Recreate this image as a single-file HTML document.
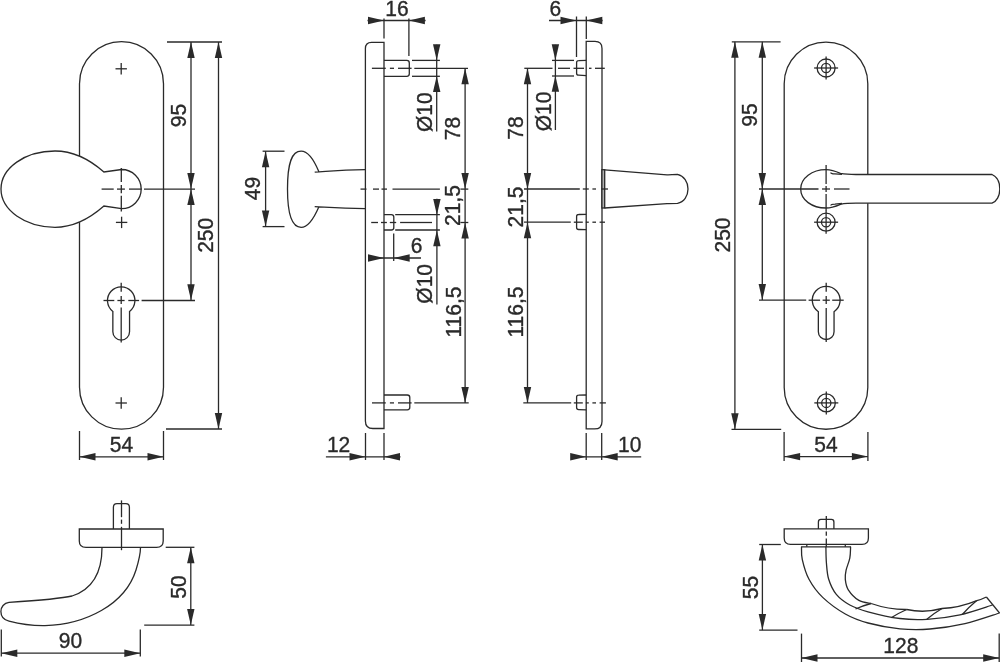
<!DOCTYPE html>
<html><head><meta charset="utf-8"><style>
html,body{margin:0;padding:0;background:#fff;width:1000px;height:662px;overflow:hidden}
svg{display:block}
text{font-family:"Liberation Sans",sans-serif;font-size:21px;fill:#2a2a2a;stroke:#2a2a2a;stroke-width:0.35px}
svg{will-change:transform}
</style></head><body>
<svg width="1000" height="662" viewBox="0 0 1000 662">
<g fill="none" stroke="#2a2a2a" stroke-width="1.3">
<path d="M79.5,83.7 A42,42 0 0 1 163.5,83.7 L163.5,387.2 A42,42 0 0 1 79.5,387.2 Z" fill="none" />
<line x1="115.5" y1="68.8" x2="126.9" y2="68.8"/>
<line x1="121.2" y1="63.1" x2="121.2" y2="74.5"/>
<line x1="115.9" y1="222.4" x2="127.3" y2="222.4"/>
<line x1="121.6" y1="216.7" x2="121.6" y2="228.1"/>
<line x1="115.5" y1="403" x2="126.9" y2="403"/>
<line x1="121.2" y1="397.3" x2="121.2" y2="408.7"/>
<path d="M103.9,172 C88,158 72,151 55,151 C25,151 1,168 1,189.1 C1,210 25,227.3 55,227.3 C72,227.3 88,220 103.9,206 L121.6,208.7 A19.6,19.6 0 0 0 121.6,169.5 Z" fill="#fff" />
<line x1="121.3" y1="167.9" x2="121.3" y2="182"/>
<line x1="121.3" y1="184.9" x2="121.3" y2="193.2"/>
<line x1="121.3" y1="195.7" x2="121.3" y2="211.5"/>
<line x1="101.6" y1="189.1" x2="113.7" y2="189.1"/>
<line x1="117" y1="189.1" x2="124.9" y2="189.1"/>
<line x1="129" y1="189.1" x2="141.5" y2="189.1"/>
<line x1="144" y1="189.1" x2="195" y2="189.1"/>
<path d="M112.85,311.4 A13.7,13.7 0 1 1 129.55,311.4 L129.55,331.75 A8.35,8.35 0 0 1 112.85,331.75 Z" fill="none" />
<line x1="121.2" y1="282.7" x2="121.2" y2="291.8"/>
<line x1="121.2" y1="296" x2="121.2" y2="303.9"/>
<line x1="121.2" y1="307.5" x2="121.2" y2="342.5"/>
<line x1="103.5" y1="300.5" x2="114.3" y2="300.5"/>
<line x1="117.4" y1="300.5" x2="124.6" y2="300.5"/>
<line x1="128.3" y1="300.5" x2="139.1" y2="300.5"/>
<line x1="141.6" y1="300.5" x2="195" y2="300.5"/>
<line x1="167" y1="42" x2="222" y2="42"/>
<line x1="166" y1="429" x2="222" y2="429"/>
<line x1="191" y1="42" x2="191" y2="300"/>
<polygon points="191.00,42.00 187.30,58.00 194.70,58.00" fill="#2a2a2a" stroke="none"/>
<polygon points="191.00,189.10 187.30,173.10 194.70,173.10" fill="#2a2a2a" stroke="none"/>
<polygon points="191.00,189.10 187.30,205.10 194.70,205.10" fill="#2a2a2a" stroke="none"/>
<polygon points="191.00,300.20 187.30,284.20 194.70,284.20" fill="#2a2a2a" stroke="none"/>
<line x1="218.5" y1="42" x2="218.5" y2="429"/>
<polygon points="218.50,42.00 214.80,58.00 222.20,58.00" fill="#2a2a2a" stroke="none"/>
<polygon points="218.50,429.00 214.80,413.00 222.20,413.00" fill="#2a2a2a" stroke="none"/>
<text transform="translate(185.6,115.5) rotate(-90) scale(1,1.02)" text-anchor="middle">95</text>
<text transform="translate(213.2,235.3) rotate(-90) scale(1,1.02)" text-anchor="middle">250</text>
<line x1="79.5" y1="431" x2="79.5" y2="460"/>
<line x1="163.5" y1="431" x2="163.5" y2="460"/>
<line x1="79.5" y1="456.8" x2="163.5" y2="456.8"/>
<polygon points="79.50,456.80 95.50,453.10 95.50,460.50" fill="#2a2a2a" stroke="none"/>
<polygon points="163.50,456.80 147.50,453.10 147.50,460.50" fill="#2a2a2a" stroke="none"/>
<text transform="translate(121.5,451.6) scale(1,1.02)" text-anchor="middle">54</text>
<path d="M384,42.3 L371.5,42.3 Q365.4,42.3 365.4,48.5 L365.4,421 Q365.4,428.5 372.9,428.5 L384,428.5 Z" fill="none" />
<path d="M384,60.4 L406.8,60.4 Q409.3,60.4 409.3,62.9 L409.3,73.8 Q409.3,76.3 406.8,76.3 L384,76.3" fill="none" />
<path d="M384,214.6 L391.3,214.6 Q393.8,214.6 393.8,217.1 L393.8,227.5 Q393.8,230 391.3,230 L384,230" fill="none" />
<path d="M384,395 L407.3,395 Q409.8,395 409.8,397.5 L409.8,407.3 Q409.8,409.8 407.3,409.8 L384,409.8" fill="none" />
<line x1="371.9" y1="68.3" x2="385.8" y2="68.3"/>
<line x1="389.9" y1="68.3" x2="394" y2="68.3"/>
<line x1="398" y1="68.3" x2="411.6" y2="68.3"/>
<line x1="414.3" y1="68.3" x2="468" y2="68.3"/>
<line x1="371.2" y1="222.5" x2="378" y2="222.5"/>
<line x1="381" y1="222.5" x2="386.9" y2="222.5"/>
<line x1="389.8" y1="222.5" x2="396.2" y2="222.5"/>
<line x1="400.1" y1="222.5" x2="432" y2="222.5"/>
<line x1="372" y1="402.9" x2="385.8" y2="402.9"/>
<line x1="389.9" y1="402.9" x2="394" y2="402.9"/>
<line x1="398" y1="402.9" x2="411.6" y2="402.9"/>
<line x1="414.3" y1="402.9" x2="468.7" y2="402.9"/>
<line x1="412" y1="60.4" x2="439.9" y2="60.4"/>
<line x1="412" y1="76.3" x2="439.9" y2="76.3"/>
<line x1="395.2" y1="214.6" x2="439.9" y2="214.6"/>
<line x1="395.2" y1="230" x2="439.9" y2="230"/>
<path d="M365,169.7 C340,170.2 328,171.4 314.7,172.1 M318.8,171.5 C314,160 308,151.1 301.1,151.1 C292,151.1 287.5,162 287.5,189 C287.5,216 292,227.3 301.1,227.3 C308,227.3 314,218 318.8,206.9 M314.7,206.6 C328,207.2 340,208 365,208.6" fill="none" />
<line x1="360.5" y1="189.1" x2="366.5" y2="189.1"/>
<line x1="373" y1="189.1" x2="379" y2="189.1"/>
<line x1="381.5" y1="189.1" x2="387" y2="189.1"/>
<line x1="392.5" y1="189.1" x2="439.9" y2="189.1"/>
<line x1="262.6" y1="151.2" x2="284.5" y2="151.2"/>
<line x1="262.6" y1="226.6" x2="284.5" y2="226.6"/>
<line x1="265.6" y1="151.2" x2="265.6" y2="226.6"/>
<polygon points="265.60,151.20 261.90,167.20 269.30,167.20" fill="#2a2a2a" stroke="none"/>
<polygon points="265.60,226.60 261.90,210.60 269.30,210.60" fill="#2a2a2a" stroke="none"/>
<text transform="translate(260.3,188.6) rotate(-90) scale(1,1.02)" text-anchor="middle">49</text>
<line x1="384" y1="18.6" x2="384" y2="38.5"/>
<line x1="408.9" y1="18.6" x2="408.9" y2="56"/>
<line x1="367.5" y1="20.5" x2="425.6" y2="20.5"/>
<polygon points="384.00,20.50 368.00,16.80 368.00,24.20" fill="#2a2a2a" stroke="none"/>
<polygon points="408.90,20.50 424.90,16.80 424.90,24.20" fill="#2a2a2a" stroke="none"/>
<text transform="translate(397,15.9) scale(1,1.02)" text-anchor="middle">16</text>
<line x1="436.7" y1="44.8" x2="436.7" y2="131.6"/>
<polygon points="436.70,60.30 433.00,44.30 440.40,44.30" fill="#2a2a2a" stroke="none"/>
<polygon points="436.70,76.10 433.00,92.10 440.40,92.10" fill="#2a2a2a" stroke="none"/>
<text transform="translate(432,112.2) rotate(-90) scale(1,1.02)" text-anchor="middle">Ø10</text>
<line x1="465.1" y1="68.3" x2="465.1" y2="402.9"/>
<polygon points="465.10,68.30 461.40,84.30 468.80,84.30" fill="#2a2a2a" stroke="none"/>
<polygon points="465.10,189.10 461.40,173.10 468.80,173.10" fill="#2a2a2a" stroke="none"/>
<polygon points="465.10,222.50 461.40,238.50 468.80,238.50" fill="#2a2a2a" stroke="none"/>
<polygon points="465.10,402.90 461.40,386.90 468.80,386.90" fill="#2a2a2a" stroke="none"/>
<line x1="460.4" y1="189.1" x2="468.3" y2="189.1"/>
<line x1="460.4" y1="222.5" x2="468.3" y2="222.5"/>
<text transform="translate(460,128.6) rotate(-90) scale(1,1.02)" text-anchor="middle">78</text>
<text transform="translate(460.4,205.6) rotate(-90) scale(1,1.02)" text-anchor="middle">21,5</text>
<text transform="translate(460.5,312) rotate(-90) scale(1,1.02)" text-anchor="middle">116,5</text>
<line x1="436.9" y1="198.7" x2="436.9" y2="304.4"/>
<polygon points="436.90,215.00 433.20,199.00 440.60,199.00" fill="#2a2a2a" stroke="none"/>
<polygon points="436.90,230.20 433.20,246.20 440.60,246.20" fill="#2a2a2a" stroke="none"/>
<text transform="translate(431.5,283.8) rotate(-90) scale(1,1.02)" text-anchor="middle">Ø10</text>
<line x1="393.7" y1="233.5" x2="393.7" y2="261"/>
<line x1="368.4" y1="258" x2="421" y2="258"/>
<polygon points="384.00,258.00 368.00,254.30 368.00,261.70" fill="#2a2a2a" stroke="none"/>
<polygon points="393.70,258.00 409.70,254.30 409.70,261.70" fill="#2a2a2a" stroke="none"/>
<text transform="translate(416.6,253.1) scale(1,1.02)" text-anchor="middle">6</text>
<line x1="365.5" y1="433" x2="365.5" y2="460"/>
<line x1="384" y1="433" x2="384" y2="460"/>
<line x1="325.9" y1="456.8" x2="400.5" y2="456.8"/>
<polygon points="365.50,456.80 349.50,453.10 349.50,460.50" fill="#2a2a2a" stroke="none"/>
<polygon points="384.00,456.80 400.00,453.10 400.00,460.50" fill="#2a2a2a" stroke="none"/>
<text transform="translate(338.6,452) scale(1,1.02)" text-anchor="middle">12</text>
<path d="M586.2,41.4 L595,41.4 Q602,41.4 602,48.4 L602,421.4 Q602,428.9 594.5,428.9 L586.2,428.9 Z" fill="none" />
<path d="M586.2,60.4 L578.6,60.6 Q576.6,60.6 576.6,62.6 L576.6,73.2 Q576.6,75.2 578.6,75.2 L586.2,75.6" fill="none" />
<path d="M586.2,214.3 L578.6,214.5 Q576.6,214.5 576.6,216.5 L576.6,227.5 Q576.6,229.5 578.6,229.5 L586.2,229.7" fill="none" />
<path d="M586.2,395 L578.6,395.2 Q576.6,395.2 576.6,397.2 L576.6,407.6 Q576.6,409.6 578.6,409.6 L586.2,409.8" fill="none" />
<line x1="524.3" y1="68.3" x2="552.5" y2="68.3"/>
<line x1="558" y1="68.3" x2="570" y2="68.3"/>
<line x1="573.5" y1="68.3" x2="584" y2="68.3"/>
<line x1="589" y1="68.3" x2="591.5" y2="68.3"/>
<line x1="595" y1="68.3" x2="604.8" y2="68.3"/>
<line x1="524" y1="222.2" x2="570.8" y2="222.2"/>
<line x1="573.8" y1="222.2" x2="582.8" y2="222.2"/>
<line x1="585.8" y1="222.2" x2="588.8" y2="222.2"/>
<line x1="592.4" y1="222.2" x2="596" y2="222.2"/>
<line x1="599.6" y1="222.2" x2="605" y2="222.2"/>
<line x1="523.3" y1="402.9" x2="571.2" y2="402.9"/>
<line x1="573.8" y1="402.9" x2="582.8" y2="402.9"/>
<line x1="585.8" y1="402.9" x2="588.8" y2="402.9"/>
<line x1="592.4" y1="402.9" x2="596" y2="402.9"/>
<line x1="599.6" y1="402.9" x2="605.9" y2="402.9"/>
<line x1="552" y1="60.4" x2="574" y2="60.4"/>
<line x1="552" y1="76" x2="574" y2="76"/>
<rect x="601.9" y="169.7" width="2.8" height="38.3" fill="#b0b0b0"/>
<path d="M604.7,169.9 L667,174.8 Q670,174.9 677.5,174.4 C684,176 688,182 688,189 C688,196 684,202 677.5,203.3 Q670,203.4 667,203.6 L604.5,208" fill="none" />
<line x1="524" y1="189" x2="579.8" y2="189"/>
<line x1="582.8" y1="189" x2="588.8" y2="189"/>
<line x1="592.4" y1="189" x2="596" y2="189"/>
<line x1="601.4" y1="189" x2="608" y2="189"/>
<line x1="576.5" y1="16.5" x2="576.5" y2="57"/>
<line x1="586.3" y1="16.5" x2="586.3" y2="39"/>
<line x1="549" y1="20.5" x2="602.6" y2="20.5"/>
<polygon points="576.50,20.50 560.50,16.80 560.50,24.20" fill="#2a2a2a" stroke="none"/>
<polygon points="586.30,20.50 602.30,16.80 602.30,24.20" fill="#2a2a2a" stroke="none"/>
<text transform="translate(555.3,15.8) scale(1,1.02)" text-anchor="middle">6</text>
<line x1="555.4" y1="44.8" x2="555.4" y2="130"/>
<polygon points="555.40,60.30 551.70,44.30 559.10,44.30" fill="#2a2a2a" stroke="none"/>
<polygon points="555.40,75.70 551.70,91.70 559.10,91.70" fill="#2a2a2a" stroke="none"/>
<text transform="translate(551,111.5) rotate(-90) scale(1,1.02)" text-anchor="middle">Ø10</text>
<line x1="527.5" y1="68.3" x2="527.5" y2="402.9"/>
<polygon points="527.50,68.30 523.80,84.30 531.20,84.30" fill="#2a2a2a" stroke="none"/>
<polygon points="527.50,188.90 523.80,172.90 531.20,172.90" fill="#2a2a2a" stroke="none"/>
<polygon points="527.50,222.20 523.80,238.20 531.20,238.20" fill="#2a2a2a" stroke="none"/>
<polygon points="527.50,402.90 523.80,386.90 531.20,386.90" fill="#2a2a2a" stroke="none"/>
<text transform="translate(523,128) rotate(-90) scale(1,1.02)" text-anchor="middle">78</text>
<text transform="translate(523,207) rotate(-90) scale(1,1.02)" text-anchor="middle">21,5</text>
<text transform="translate(523,312) rotate(-90) scale(1,1.02)" text-anchor="middle">116,5</text>
<line x1="586.2" y1="433" x2="586.2" y2="460"/>
<line x1="601.7" y1="433" x2="601.7" y2="460"/>
<line x1="571" y1="456.8" x2="641.2" y2="456.8"/>
<polygon points="586.20,456.80 570.20,453.10 570.20,460.50" fill="#2a2a2a" stroke="none"/>
<polygon points="601.70,456.80 617.70,453.10 617.70,460.50" fill="#2a2a2a" stroke="none"/>
<text transform="translate(629.7,452) scale(1,1.02)" text-anchor="middle">10</text>
<path d="M784.2,83.8 A41.8,41.8 0 0 1 867.8,83.8 L867.8,387.5 A41.8,41.8 0 0 1 784.2,387.5 Z" fill="none" />
<circle cx="826.1" cy="68" r="9.0" fill="none"/>
<circle cx="826.1" cy="68" r="4.6" fill="none"/>
<line x1="814.1" y1="68" x2="838.1" y2="68"/>
<line x1="826.1" y1="56.5" x2="826.1" y2="79.5"/>
<circle cx="826.1" cy="222.2" r="9.0" fill="none"/>
<circle cx="826.1" cy="222.2" r="4.6" fill="none"/>
<line x1="814.1" y1="222.2" x2="838.1" y2="222.2"/>
<line x1="826.1" y1="210.7" x2="826.1" y2="233.7"/>
<circle cx="826.3" cy="402.9" r="9.0" fill="none"/>
<circle cx="826.3" cy="402.9" r="4.6" fill="none"/>
<line x1="814.3" y1="402.9" x2="838.3" y2="402.9"/>
<line x1="826.3" y1="391.4" x2="826.3" y2="414.4"/>
<path d="M840.4,173.4 C833,170 830,169.6 826.1,169.6 C812,169.6 800.7,178 800.7,189 C800.7,200 812,208 826.1,208 C830,208 833,207.5 840.4,204.3 C846,203.3 850,203.2 856,203.2 L992,203.2 C996.5,201.5 999.8,196 999.8,189 C999.8,182 996.5,176.5 992,174.5 L856,174.5 C850,174.5 846,174.4 840.4,173.4 Z" fill="#fff" />
<path d="M830.8,172.5 C830.8,173.5 832,173.9 835,173.9 L842,174.4" fill="none" />
<path d="M830.8,205.5 C830.8,204.5 832,204.1 835,204.1 L842,203.3" fill="none" />
<line x1="826.1" y1="165" x2="826.1" y2="184"/>
<line x1="826.1" y1="186" x2="826.1" y2="192"/>
<line x1="826.1" y1="194" x2="826.1" y2="211"/>
<line x1="759" y1="189" x2="818.5" y2="189"/>
<line x1="822" y1="189" x2="830" y2="189"/>
<line x1="834" y1="189" x2="849.5" y2="189"/>
<path d="M818.35,311.7 A13.9,13.9 0 1 1 834.05,311.7 L834.05,331.65 A7.85,7.85 0 0 1 818.35,331.65 Z" fill="none" />
<line x1="826.2" y1="282.7" x2="826.2" y2="291.8"/>
<line x1="826.2" y1="296" x2="826.2" y2="303.9"/>
<line x1="826.2" y1="308" x2="826.2" y2="342"/>
<line x1="759" y1="300.2" x2="806.2" y2="300.2"/>
<line x1="808.6" y1="300.2" x2="820.1" y2="300.2"/>
<line x1="822.6" y1="300.2" x2="829.8" y2="300.2"/>
<line x1="832.2" y1="300.2" x2="843.7" y2="300.2"/>
<line x1="731.8" y1="41.8" x2="780.6" y2="41.8"/>
<line x1="731.5" y1="429.3" x2="781.2" y2="429.3"/>
<line x1="734.9" y1="41.8" x2="734.9" y2="429.3"/>
<polygon points="734.90,41.80 731.20,57.80 738.60,57.80" fill="#2a2a2a" stroke="none"/>
<polygon points="734.90,429.30 731.20,413.30 738.60,413.30" fill="#2a2a2a" stroke="none"/>
<line x1="762.3" y1="41.8" x2="762.3" y2="300.1"/>
<polygon points="762.30,41.80 758.60,57.80 766.00,57.80" fill="#2a2a2a" stroke="none"/>
<polygon points="762.30,189.00 758.60,173.00 766.00,173.00" fill="#2a2a2a" stroke="none"/>
<polygon points="762.30,189.00 758.60,205.00 766.00,205.00" fill="#2a2a2a" stroke="none"/>
<polygon points="762.30,300.10 758.60,284.10 766.00,284.10" fill="#2a2a2a" stroke="none"/>
<text transform="translate(757,115) rotate(-90) scale(1,1.02)" text-anchor="middle">95</text>
<text transform="translate(730,235) rotate(-90) scale(1,1.02)" text-anchor="middle">250</text>
<line x1="784.1" y1="432" x2="784.1" y2="461"/>
<line x1="867.9" y1="432" x2="867.9" y2="461"/>
<line x1="784.1" y1="456.6" x2="867.9" y2="456.6"/>
<polygon points="784.10,456.60 800.10,452.90 800.10,460.30" fill="#2a2a2a" stroke="none"/>
<polygon points="867.90,456.60 851.90,452.90 851.90,460.30" fill="#2a2a2a" stroke="none"/>
<text transform="translate(826,451.7) scale(1,1.02)" text-anchor="middle">54</text>
<path d="M79.3,529 L163.2,529 L163.2,541 Q163.2,547.4 156.5,547.4 L86,547.4 Q79.3,547.4 79.3,541 Z" fill="none" />
<path d="M113.4,529 L113.4,507.2 Q113.4,503.6 117,503.6 L125.8,503.6 Q129.4,503.6 129.4,507.2 L129.4,529" fill="none" />
<line x1="121.5" y1="500.4" x2="121.5" y2="517.2"/>
<line x1="121.5" y1="519.6" x2="121.5" y2="523.8"/>
<line x1="121.5" y1="526.8" x2="121.5" y2="550.2"/>
<path d="M102,547.4 C102,575 90,590 72,596 C60,598.8 30,601 9,602.4 C4,603 0.9,607 0.9,611.5 C0.9,616.5 4,620 9,621.1 C20,624 33,625.8 45,625.6 C85,624.6 125,605 136,570 C139,560 140.5,552 140.5,547.4" fill="none" />
<line x1="165.7" y1="547.3" x2="194.4" y2="547.3"/>
<line x1="144.2" y1="625.1" x2="194.4" y2="625.1"/>
<line x1="190.8" y1="547.3" x2="190.8" y2="625.1"/>
<polygon points="190.80,547.30 187.10,563.30 194.50,563.30" fill="#2a2a2a" stroke="none"/>
<polygon points="190.80,625.10 187.10,609.10 194.50,609.10" fill="#2a2a2a" stroke="none"/>
<text transform="translate(186,587) rotate(-90) scale(1,1.02)" text-anchor="middle">50</text>
<line x1="1.3" y1="629.4" x2="1.3" y2="656.5"/>
<line x1="140.3" y1="629.4" x2="140.3" y2="656.5"/>
<line x1="1.3" y1="653.2" x2="140.3" y2="653.2"/>
<polygon points="1.30,653.20 17.30,649.50 17.30,656.90" fill="#2a2a2a" stroke="none"/>
<polygon points="140.30,653.20 124.30,649.50 124.30,656.90" fill="#2a2a2a" stroke="none"/>
<text transform="translate(70.5,648.3) scale(1,1.02)" text-anchor="middle">90</text>
<path d="M784.2,528.9 L868.4,528.9 L868.4,538 Q868.4,544.4 862,544.4 L790.6,544.4 Q784.2,544.4 784.2,538 Z" fill="none" />
<path d="M818.4,528.9 L818.4,521.9 Q818.4,519.4 820.9,519.4 L831.4,519.4 Q833.9,519.4 833.9,521.9 L833.9,528.9" fill="none" />
<line x1="826.3" y1="516" x2="826.3" y2="528.7"/>
<line x1="826.3" y1="531.4" x2="826.3" y2="535.8"/>
<line x1="826.3" y1="538.5" x2="826.3" y2="547"/>
<path d="M806.8,544.4 L806.8,546.8 M845.3,544.4 L845.3,546.8" fill="none" />
<line x1="801.1" y1="546.8" x2="851" y2="546.8"/>
<path d="M801.5,546.8 C801.63,548.93 801.05,554.18 802.3,559.6 C803.55,565.02 805.60,573.00 809,579.3 C812.40,585.60 816.65,591.62 822.7,597.4 C828.75,603.18 837.75,609.73 845.3,614 C852.85,618.27 858.88,620.53 868,623 C877.12,625.47 889.67,627.80 900,628.8 C910.33,629.80 919.17,629.87 930,629 C940.83,628.13 953.42,626.27 965,623.6 C976.58,620.93 993.75,614.77 999.5,613" fill="none" />
<path d="M825.9,546.8 C825.98,549.45 825.93,557.28 826.4,562.7 C826.87,568.12 827.05,574.02 828.7,579.3 C830.35,584.58 832.78,590.12 836.3,594.4 C839.82,598.68 844.52,602.10 849.8,605 C855.08,607.90 859.63,609.55 868,611.8 C876.37,614.05 890.17,617.25 900,618.5 C909.83,619.75 917.00,619.92 927,619.3 C937.00,618.68 949.08,617.18 960,614.8 C970.92,612.42 987.08,606.63 992.5,605" fill="none" />
<path d="M850.6,546.8 C850.47,548.68 850.55,554.20 849.8,558.1 C849.05,562.00 846.85,566.67 846.1,570.2 C845.35,573.73 844.93,576.03 845.3,579.3 C845.67,582.57 846.03,586.28 848.3,589.8 C850.57,593.32 855.10,598.12 858.9,600.4 C862.70,602.68 869.07,602.98 871.1,603.5" fill="none" />
<path d="M871.1,603.5 Q888.9000000000001,609.7 906.7,609.5" fill="none" />
<path d="M906.7,609.5 Q924.35,613.4 942,608.5" fill="none" />
<path d="M942,608.5 Q959.4,607.75 976.8,600.6" fill="none" />
<path d="M976.8,600.6 Q981.5999999999999,599.4 986.4,597" fill="none" />
<line x1="986.4" y1="597" x2="999.6" y2="613"/>
<path d="M855.5,609 Q862.9,605.65 871.1,603.5" fill="none" />
<path d="M891.2,617.8 Q898.5500000000001,613.05 906.7,609.5" fill="none" />
<path d="M926.8,619.2 Q934.0,613.25 942,608.5" fill="none" />
<path d="M962.5,614.3 Q969.25,606.85 976.8,600.6" fill="none" />
<line x1="759.2" y1="544.5" x2="780.8" y2="544.5"/>
<line x1="759.2" y1="630.1" x2="797.5" y2="630.1"/>
<line x1="762.4" y1="544.5" x2="762.4" y2="630.1"/>
<polygon points="762.40,544.50 758.70,560.50 766.10,560.50" fill="#2a2a2a" stroke="none"/>
<polygon points="762.40,630.10 758.70,614.10 766.10,614.10" fill="#2a2a2a" stroke="none"/>
<text transform="translate(758.2,587.5) rotate(-90) scale(1,1.02)" text-anchor="middle">55</text>
<line x1="801.5" y1="633.6" x2="801.5" y2="662"/>
<line x1="999.2" y1="633.6" x2="999.2" y2="662"/>
<line x1="801.5" y1="658" x2="999.2" y2="658"/>
<polygon points="801.50,658.00 817.50,654.30 817.50,661.70" fill="#2a2a2a" stroke="none"/>
<polygon points="999.20,658.00 983.20,654.30 983.20,661.70" fill="#2a2a2a" stroke="none"/>
<text transform="translate(900.8,652.8) scale(1,1.02)" text-anchor="middle">128</text>
</g></svg></body></html>
